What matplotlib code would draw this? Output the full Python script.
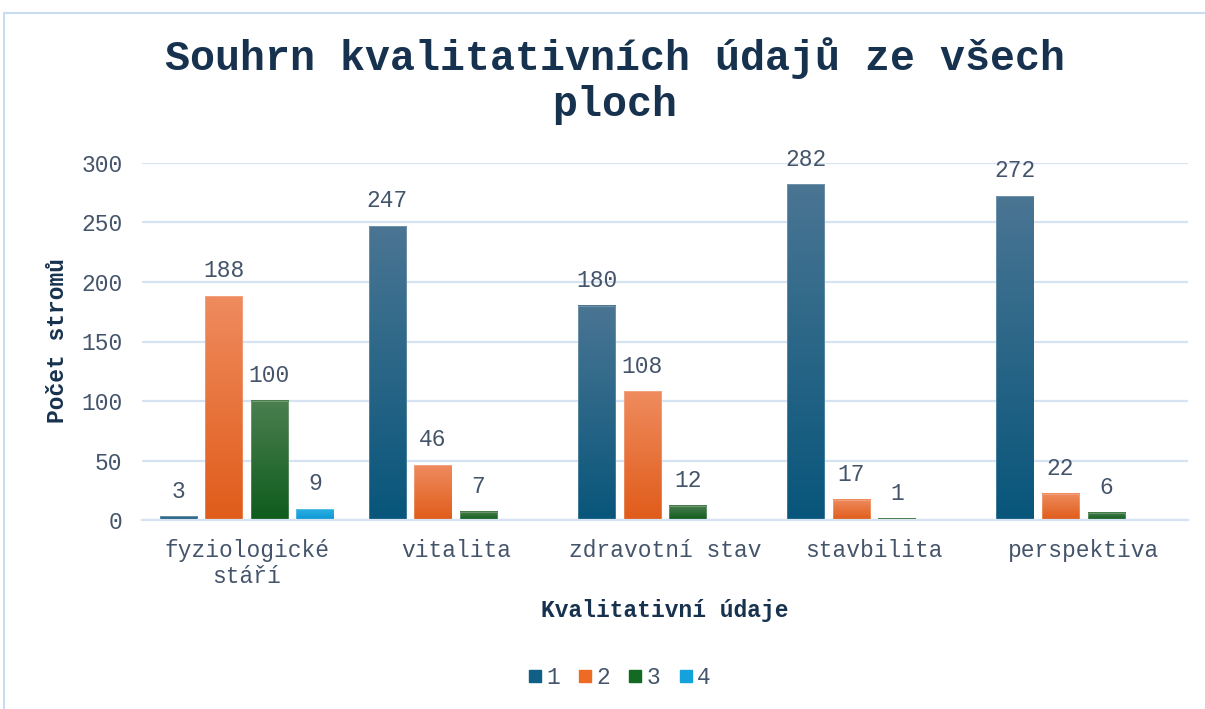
import matplotlib.pyplot as plt
import numpy as np
from matplotlib.colors import LinearSegmentedColormap
from matplotlib.patches import Rectangle
from matplotlib.lines import Line2D

categories = ["fyziologické\nstáří", "vitalita", "zdravotní stav", "stavbilita", "perspektiva"]
series_names = ["1", "2", "3", "4"]
s1 = [3, 247, 180, 282, 272]
s2 = [188, 46, 108, 17, 22]
s3 = [100, 7, 12, 1, 6]
s4 = [9, None, None, None, None]
series = [s1, s2, s3, s4]

# top / bottom colours of the gradient fill
tops = ["#4a7593", "#ef8b5e", "#4b7f50", "#2aaee3"]
bots = ["#08567b", "#e05c1a", "#0e5c1c", "#0c98d4"]
solid = ["#0f5f87", "#ee6b24", "#136a22", "#13a2dc"]

txt = "#44546a"
dark = "#17324f"
grid = "#d6e3f3"
font = "Liberation Mono"

plt.rcParams['font.family'] = [font, 'DejaVu Sans']

fig = plt.figure(figsize=(12.05, 7.09), dpi=100)
ax = fig.add_axes([142/1205, 1-520/709, (1188-142)/1205, (520-163)/709])

x = np.arange(len(categories))
w = 0.177
step = 0.218
offs = (np.arange(4) - 1.5) * step

for i, vals in enumerate(series):
    cmap = LinearSegmentedColormap.from_list("g%d" % i, [bots[i], tops[i]])
    for j, v in enumerate(vals):
        if v is None:
            continue
        x0 = x[j] + offs[i] - w/2
        grad = np.linspace(0, 1, 100).reshape(-1, 1)
        ax.imshow(grad, extent=[x0, x0 + w, 0, v], origin='lower', cmap=cmap,
                  aspect='auto', zorder=2, interpolation='bilinear')
        ax.add_patch(Rectangle((x0, 0), w, v, fill=False, edgecolor='white',
                               lw=0.6, alpha=0.25, zorder=3))
        ax.annotate(str(v), (x[j] + offs[i], v), xytext=(0, 10), textcoords='offset points',
                    ha='center', va='bottom', fontsize=16.5, color=txt, family=font)

ax.set_xlim(-0.5, len(categories) - 0.5)
ax.set_ylim(0, 300)
ax.set_yticks(np.arange(0, 301, 50))
ax.set_xticks(x)
ax.set_xticklabels(categories, fontsize=16.5, color=txt, linespacing=1.15)
ax.tick_params(axis='y', labelsize=16.5, labelcolor=txt, length=0, pad=14)
ax.tick_params(axis='x', length=0, pad=14)
ax.grid(axis='y', color=grid, lw=1.6, zorder=0)
ax.set_axisbelow(True)
for s in ['top', 'right', 'left']:
    ax.spines[s].set_visible(False)
ax.spines['bottom'].set_color(grid)
ax.spines['bottom'].set_linewidth(1.6)

fig.text(615/1205, 1-81/709, "Souhrn kvalitativních údajů ze všech\nploch", ha='center', va='center',
         fontsize=30, fontweight='bold', color=dark, linespacing=1.2)
fig.text(58/1205, 1-341/709, "Počet stromů", rotation=90, ha='center', va='center',
         fontsize=16.5, fontweight='bold', color=dark)
fig.text(665/1205, 1-610/709, "Kvalitativní údaje", ha='center', va='center',
         fontsize=16.5, fontweight='bold', color=dark)

handles = [Line2D([], [], marker='s', ls='', markersize=9, color=c) for c in solid]
fig.legend(handles, series_names, loc='center', bbox_to_anchor=(617/1205, 1-678/709), ncol=4,
           frameon=False, fontsize=16.5, handletextpad=0.0, columnspacing=0.6,
           handlelength=1.0, labelcolor=txt)

fig.patches.append(Rectangle((4/1205, -0.1), 1.2, 1.1 - 13/709, transform=fig.transFigure,
                             fill=False, edgecolor="#c9dcf0", lw=1.5, figure=fig))

fig.savefig("out.png", dpi=100)
